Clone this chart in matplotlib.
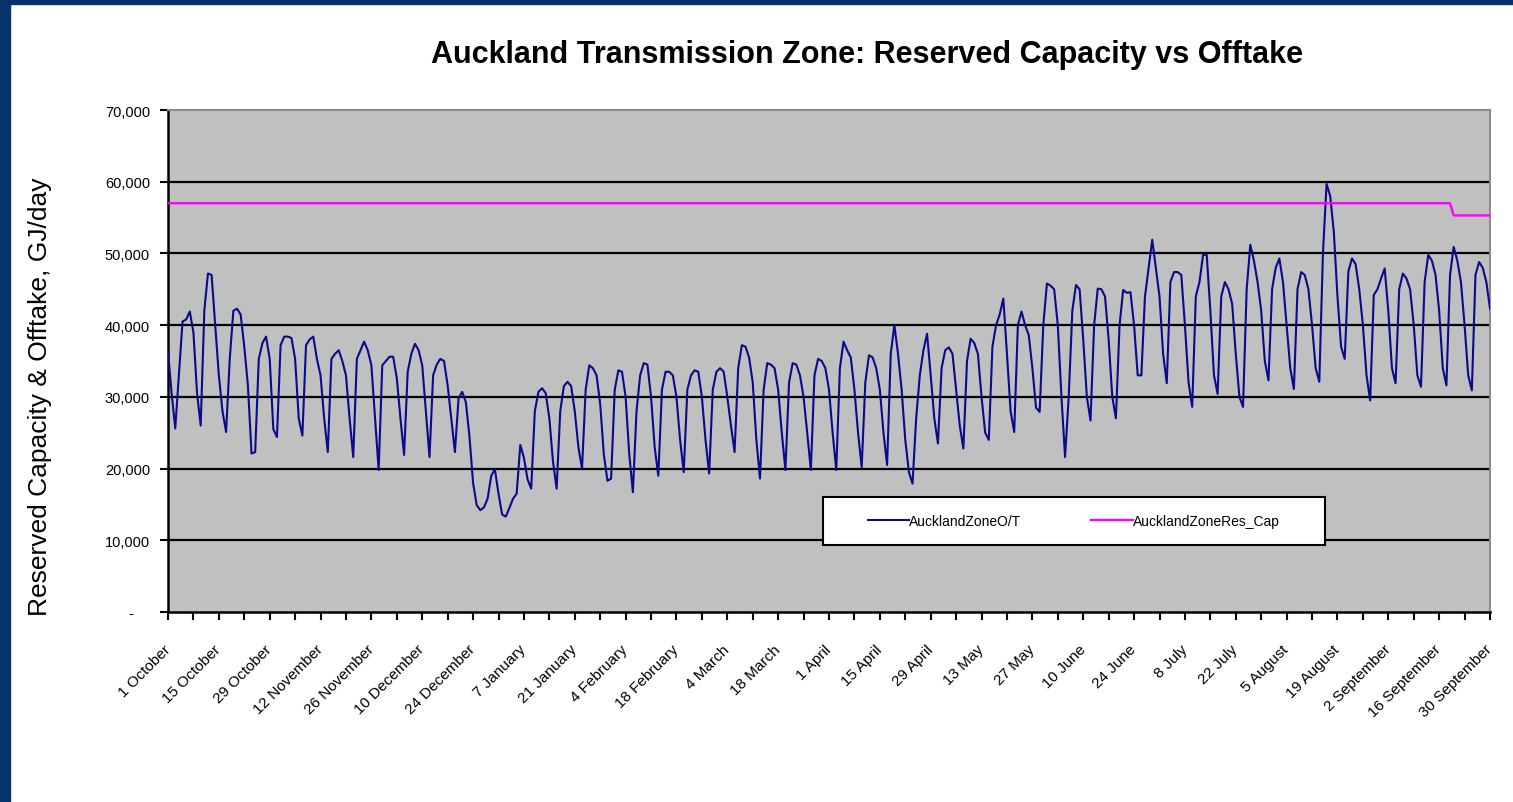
import matplotlib.pyplot as plt
import numpy as np
from matplotlib.patches import Rectangle
from matplotlib.lines import Line2D

plt.rcParams['font.family'] = ['Liberation Sans', 'DejaVu Sans']

# daily offtake, thousand GJ/day, one row per week starting 1 October (Fri .. Thu)
offtake_weeks = [
    [36.3, 30.5, 25.6, 33.0, 40.5, 40.8, 41.9],
    [39.0, 30.5, 26.0, 42.0, 47.2, 47.0, 40.0],
    [33.0, 28.0, 25.1, 35.3, 42.0, 42.3, 41.5],
    [37.0, 31.6, 22.1, 22.3, 35.3, 37.5, 38.4],
    [35.3, 25.5, 24.4, 37.2, 38.4, 38.4, 38.2],
    [35.3, 27.0, 24.6, 37.2, 38.0, 38.4, 35.3],
    [33.0, 27.0, 22.3, 35.3, 36.0, 36.5, 35.0],
    [33.0, 27.0, 21.6, 35.3, 36.5, 37.7, 36.5],
    [34.4, 27.0, 19.8, 34.4, 35.0, 35.6, 35.6],
    [32.6, 27.0, 21.9, 33.5, 36.0, 37.4, 36.5],
    [34.4, 28.0, 21.6, 33.0, 34.5, 35.3, 35.0],
    [31.6, 27.0, 22.3, 29.8, 30.7, 29.3, 24.5],
    [18.0, 14.9, 14.2, 14.6, 15.8, 19.0, 19.9],
    [16.5, 13.6, 13.3, 14.5, 15.8, 16.5, 23.3],
    [21.5, 18.5, 17.2, 28.0, 30.7, 31.2, 30.5],
    [27.0, 21.0, 17.2, 28.0, 31.5, 32.1, 31.5],
    [28.0, 23.0, 20.0, 31.0, 34.4, 34.0, 33.0],
    [29.0, 22.0, 18.3, 18.6, 31.0, 33.7, 33.5],
    [30.0, 22.0, 16.7, 28.0, 33.0, 34.7, 34.5],
    [30.0, 23.0, 19.0, 31.0, 33.5, 33.5, 33.0],
    [30.0, 24.0, 19.5, 31.0, 33.0, 33.7, 33.5],
    [30.0, 24.0, 19.3, 31.0, 33.5, 34.0, 33.5],
    [30.0, 26.0, 22.3, 34.0, 37.2, 37.0, 35.5],
    [32.0, 24.0, 18.6, 31.0, 34.7, 34.5, 34.0],
    [31.0, 25.0, 19.8, 32.0, 34.7, 34.5, 33.0],
    [30.0, 25.0, 19.8, 33.0, 35.3, 35.0, 34.0],
    [31.0, 25.0, 19.8, 34.0, 37.7, 36.5, 35.5],
    [31.0, 25.0, 20.2, 32.0, 35.8, 35.5, 34.0],
    [31.0, 25.0, 20.5, 36.0, 40.0, 36.0, 31.0],
    [24.0, 19.5, 17.9, 27.0, 33.0, 36.5, 38.8],
    [33.0, 27.0, 23.5, 34.0, 36.5, 36.9, 36.0],
    [31.0, 26.0, 22.8, 35.0, 38.1, 37.5, 36.0],
    [30.0, 25.0, 24.0, 37.0, 40.0, 41.5, 43.7],
    [36.0, 28.0, 25.1, 40.0, 41.9, 40.0, 38.6],
    [34.0, 28.5, 27.9, 40.0, 45.8, 45.5, 45.0],
    [40.0, 30.0, 21.6, 30.0, 42.0, 45.6, 45.0],
    [38.0, 30.0, 26.7, 40.0, 45.1, 45.0, 44.0],
    [38.0, 30.0, 27.0, 40.0, 44.9, 44.5, 44.6],
    [40.0, 33.0, 33.0, 44.0, 48.0, 51.9, 48.0],
    [44.0, 36.0, 31.9, 46.0, 47.4, 47.4, 47.0],
    [40.0, 32.0, 28.6, 44.0, 46.0, 49.8, 49.8],
    [42.0, 33.0, 30.4, 44.0, 46.0, 45.0, 43.0],
    [36.0, 30.0, 28.6, 45.0, 51.2, 49.0, 46.0],
    [42.0, 35.0, 32.3, 45.0, 48.0, 49.3, 46.0],
    [40.0, 34.0, 31.1, 45.0, 47.4, 47.0, 45.0],
    [40.0, 34.0, 32.1, 50.0, 59.7, 58.0, 53.0],
    [44.0, 37.0, 35.3, 47.5, 49.3, 48.5, 45.0],
    [40.0, 33.0, 29.5, 44.2, 45.0, 46.5, 47.9],
    [42.0, 34.0, 31.9, 45.0, 47.2, 46.5, 45.0],
    [40.0, 33.0, 31.4, 46.0, 49.8, 49.0, 47.0],
    [42.0, 34.0, 31.6, 47.0, 50.9, 49.0, 46.0],
    [40.0, 33.0, 30.9, 47.0, 48.8, 48.0, 46.0],
]
offtake_last_day = [42.3]

# reserved capacity, GJ/day: steps down near the end of September
res_cap = [57000] * 354 + [55300] * 11

tick_labels = ['1 October', '15 October', '29 October', '12 November',
               '26 November', '10 December', '24 December', '7 January',
               '21 January', '4 February', '18 February', '4 March',
               '18 March', '1 April', '15 April', '29 April', '13 May',
               '27 May', '10 June', '24 June', '8 July', '22 July',
               '5 August', '19 August', '2 September', '16 September',
               '30 September']

offtake = np.array([v for w in offtake_weeks for v in w] + offtake_last_day) * 1000
days = np.arange(len(offtake))

fig = plt.figure(figsize=(15.13, 8.03), dpi=100)
fig.patch.set_facecolor('white')
navy = '#06336b'
fig.patches.append(Rectangle((0, 0), 10 / 1513, 1, transform=fig.transFigure,
                             color=navy, zorder=0))
fig.patches.append(Rectangle((0, 1 - 5 / 803), 1, 5 / 803, transform=fig.transFigure,
                             color=navy, zorder=0))

ax = fig.add_axes([168 / 1513, 1 - 613 / 803, 1322 / 1513, 502 / 803])
ax.set_facecolor('#c0c0c0')

ax.plot(days, offtake, color='#0a0a8a', lw=1.5, zorder=3)
ax.plot(days, res_cap, color='#ff00ff', lw=1.7, zorder=3)

ax.set_xlim(0, 364)
ax.set_ylim(0, 70000)

yt = np.arange(0, 70001, 10000)
ax.set_yticks(yt)
ax.set_yticklabels(['-    '] + ['{:,}'.format(v) for v in yt[1:]], fontsize=10.5)
for v in yt[1:-1]:
    ax.axhline(v, color='black', lw=1.6, zorder=1)

ax.set_xticks(np.arange(0, 365, 14))
ax.set_xticks(np.arange(7, 365, 14), minor=True)
ax.set_xticklabels(tick_labels, fontsize=11, rotation=45, ha='right',
                   va='center', rotation_mode='anchor')

ax.tick_params(axis='both', which='both', direction='out', length=6, width=1.5,
               color='black')
ax.tick_params(axis='x', which='major', pad=19)
ax.tick_params(axis='y', pad=7)

for side in ['left', 'bottom']:
    ax.spines[side].set_color('black')
    ax.spines[side].set_linewidth(1.8)
for side in ['top', 'right']:
    ax.spines[side].set_color('#8c8c8c')
    ax.spines[side].set_linewidth(1.5)

ax.set_ylabel('Reserved Capacity & Offtake, GJ/day', fontsize=19, va='center')
ax.yaxis.set_label_coords(-0.0968, 0.43)

fig.text(0.573, 1 - 55 / 803, 'Auckland Transmission Zone: Reserved Capacity vs Offtake',
         ha='center', va='center', fontsize=22, fontweight='bold')

# legend box
ax.add_patch(Rectangle((0.4955, 0.1335), 0.3795, 0.0955, transform=ax.transAxes,
                       facecolor='white', edgecolor='black', lw=1.5, zorder=4))
handles = [Line2D([], [], color='#0a0a8a', lw=1.5),
           Line2D([], [], color='#ff00ff', lw=1.7)]
leg = ax.legend(handles, ['AucklandZoneO/T', 'AucklandZoneRes_Cap'], ncol=2,
                loc='center', bbox_to_anchor=(0.685, 0.181), frameon=False,
                fontsize=10, handlelength=3.0, handletextpad=0.0,
                columnspacing=5.0)
leg.set_zorder(5)

fig.savefig('out.png', dpi=100)
